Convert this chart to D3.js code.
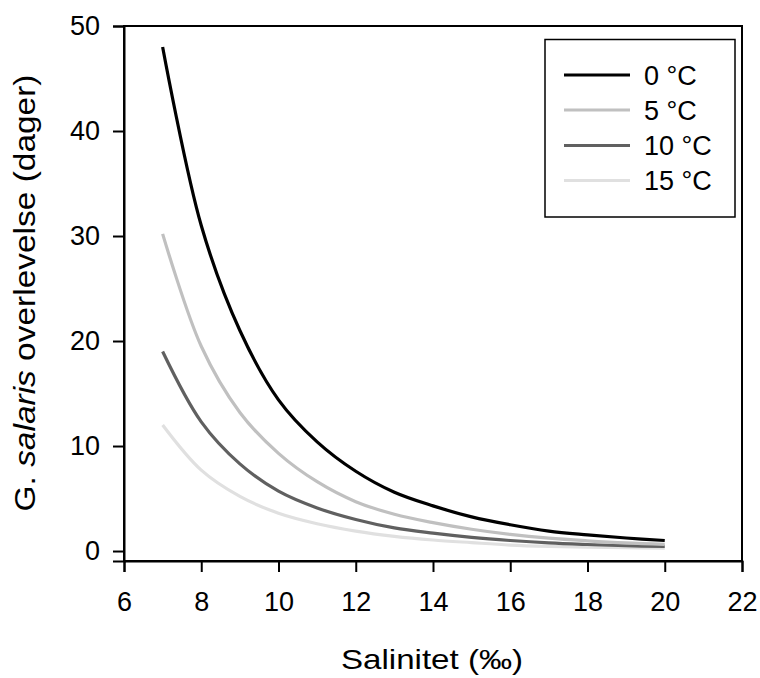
<!DOCTYPE html>
<html><head><meta charset="utf-8">
<script src="https://cdn.jsdelivr.net/npm/d3@7"></script>
<style>body{margin:0;background:#fff}svg{display:block}text{font-family:"Liberation Sans",Arial,sans-serif}</style>
</head><body>
<svg id="c" width="760" height="678"></svg>
<script>
const salinity = [7,8,9,10,11,12,13,14,15,16,17,18,19,20];
const t0  = [48, 31, 21, 14.4, 10.4, 7.6, 5.6, 4.3, 3.25, 2.5, 1.9, 1.54, 1.24, 1.0];
const t5  = [30.2, 19.5, 13.2, 9.3, 6.6, 4.7, 3.5, 2.7, 2.07, 1.58, 1.22, 0.97, 0.77, 0.64];
const t10 = [19, 12.3, 8.3, 5.7, 4.1, 3.0, 2.2, 1.7, 1.3, 1.0, 0.77, 0.62, 0.5, 0.44];
const t15 = [12, 7.7, 5.2, 3.6, 2.6, 1.9, 1.4, 1.05, 0.8, 0.57, 0.44, 0.36, 0.31, 0.28];
const seriesNames = ["0 °C","5 °C","10 °C","15 °C"];
const seriesColors = ["#000000","#c0c0c0","#606060","#e0e0e0"];
const xTicks = [6,8,10,12,14,16,18,20,22];
const yTicks = [0,10,20,30,40,50];

const svg = d3.select("#c");
const L=124, R=742, T=26, B=561;
const x = d3.scaleLinear().domain([6,22]).range([L,R]);
const y = d3.scaleLinear().domain([-0.95,50]).range([B,T]);

svg.append("rect").attr("x",L).attr("y",T).attr("width",R-L).attr("height",B-T)
  .attr("fill","none").attr("stroke","#000").attr("stroke-width",2);

const xa = svg.append("g").attr("transform",`translate(0,${B})`)
  .call(d3.axisBottom(x).tickValues(xTicks).tickSize(11).tickPadding(20).tickFormat(d3.format("d")));
const ya = svg.append("g").attr("transform",`translate(${L},0)`)
  .call(d3.axisLeft(y).tickValues(yTicks).tickSize(11).tickPadding(13).tickFormat(d3.format("d")));
[xa,ya].forEach(a=>{
  a.select(".domain").attr("stroke-width",2);
  a.selectAll(".tick line").attr("stroke-width",2);
  a.selectAll(".tick text").attr("font-size",27).attr("fill","#000").attr("font-family","Liberation Sans, Arial, sans-serif");
});

const all = [t0,t5,t10,t15];
const line = d3.line().x((d,i)=>x(salinity[i])).y(d=>y(d)).curve(d3.curveCatmullRom.alpha(0.5));
all.slice().reverse().forEach((s,k)=>{
  const i = all.length-1-k;
  svg.append("path").attr("d",line(s)).attr("fill","none")
    .attr("stroke",seriesColors[i]).attr("stroke-width",3.2);
});

svg.append("rect").attr("x",545).attr("y",39.5).attr("width",190).attr("height",177.5)
  .attr("fill","#fff").attr("stroke","#000").attr("stroke-width",1.5);
const ly = [75,110,145.5,180.5];
seriesNames.forEach((n,i)=>{
  svg.append("line").attr("x1",564).attr("x2",630).attr("y1",ly[i]).attr("y2",ly[i])
    .attr("stroke",seriesColors[i]).attr("stroke-width",3.2);
  svg.append("text").attr("x",644).attr("y",ly[i]+9.5).attr("font-size",27).text(n);
});

svg.append("text").attr("x",432).attr("y",669).attr("text-anchor","middle")
  .attr("font-size",28).attr("textLength",182).attr("lengthAdjust","spacingAndGlyphs").text("Salinitet (‰)");
const yt = svg.append("text").attr("transform",`translate(35,293) rotate(-90)`)
  .attr("text-anchor","middle").attr("font-size",29).attr("textLength",437).attr("lengthAdjust","spacingAndGlyphs");
yt.append("tspan").text("G. ");
yt.append("tspan").attr("font-style","italic").text("salaris");
yt.append("tspan").text(" overlevelse (dager)");
</script>
</body></html>
